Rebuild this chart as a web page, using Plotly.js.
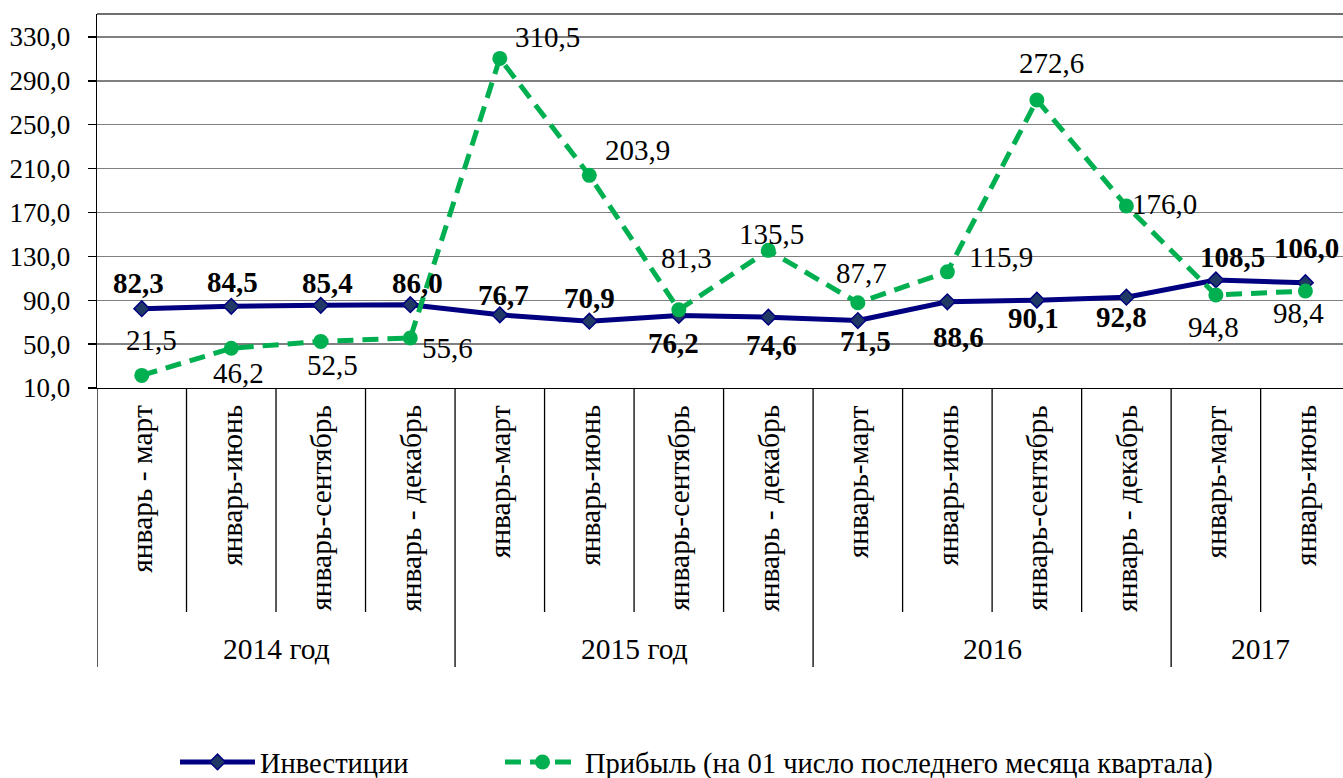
<!DOCTYPE html>
<html><head><meta charset="utf-8">
<script src="https://cdn.plot.ly/plotly-3.0.1.min.js"></script>
<style>html,body{margin:0;padding:0;overflow:hidden;background:#fff}</style>
</head><body><div id="chart" style="width:1343px;height:778px"></div>
<script>
// ---- data ----
const categories = ['январь - март','январь-июнь','январь-сентябрь','январь - декабрь',
  'январь-март','январь-июнь','январь-сентябрь','январь - декабрь',
  'январь-март','январь-июнь','январь-сентябрь','январь - декабрь',
  'январь-март','январь-июнь'];
const groups = ['2014 год','2015 год','2016','2017'];
const groupSizes = [4,4,4,2];
const investments = [82.3,84.5,85.4,86.0,76.7,70.9,76.2,74.6,71.5,88.6,90.1,92.8,108.5,106.0];
const profit = [21.5,46.2,52.5,55.6,310.5,203.9,81.3,135.5,87.7,115.9,272.6,176.0,94.8,98.4];
const seriesNames = ['Инвестиции','Прибыль (на 01 число последнего месяца квартала)'];
const yTicks = [10,50,90,130,170,210,250,290,330];

// ---- label placement (pixel offsets from the point: dx right, dy down) ----
const investLabelPos = [[-3,-26],[1,-24],[7,-22],[7,-22],[4,-20],[0,-23],[-5,28],[3,28],[8,20],[11,35],[-3,18],[-5,20],[17,-23],[1,-35]];
const profitLabelPos = [[10,-35],[7,25],[12,24],[37,10],[48,-21],[48,-25],[8,-52],[3,-16],[4,-30],[54,-15],[15,-37],[38,-2],[-2,32],[-7,22]];

const FONT = 'Liberation Serif, Times New Roman, serif';
const FS_TICK = 27, FS_LABEL = 29, FS_CAT = 29.5, FS_LEG = 28.5;
const fmt = v => v.toFixed(1).replace('.', ',');
const xs = categories.map((_, i) => i);

const traces = [
  {x: xs, y: investments, name: seriesNames[0], type: 'scatter', mode: 'lines+markers',
   line: {color: '#000080', width: 5},
   marker: {symbol: 'diamond', size: 12, color: '#1F3864', line: {color: '#000080', width: 1.5}},
   hoverinfo: 'skip', legend: 'legend'},
  {x: xs, y: profit, name: seriesNames[1], type: 'scatter', mode: 'lines+markers',
   line: {color: '#00B050', width: 5, dash: '16px,9px'},
   marker: {symbol: 'circle', size: 15, color: '#00B050'},
   hoverinfo: 'skip', legend: 'legend2'}
];

const annotations = [];
investments.forEach((v, i) => annotations.push({
  x: i, y: v, xref: 'x', yref: 'y', text: '<b>' + fmt(v) + '</b>', showarrow: false,
  xshift: investLabelPos[i][0], yshift: -investLabelPos[i][1],
  font: {family: FONT, size: FS_LABEL, color: '#000'}
}));
profit.forEach((v, i) => annotations.push({
  x: i, y: v, xref: 'x', yref: 'y', text: fmt(v), showarrow: false,
  xshift: profitLabelPos[i][0], yshift: -profitLabelPos[i][1],
  font: {family: FONT, size: FS_LABEL, color: '#000'}
}));

const plotH = 374;
const toPaperY = px => -(px - 388) / plotH;

categories.forEach((c, i) => annotations.push({
  x: i, y: toPaperY(403), xref: 'x', yref: 'paper', text: c, showarrow: false,
  textangle: -90, xanchor: 'center', yanchor: 'top',
  font: {family: FONT, size: FS_CAT, color: '#000'}
}));

const shapes = [];
let start = 0;
groups.forEach((g, gi) => {
  const n = groupSizes[gi];
  annotations.push({
    x: start + (n - 1) / 2, y: toPaperY(649), xref: 'x', yref: 'paper', text: g,
    showarrow: false, xanchor: 'center', yanchor: 'middle',
    font: {family: FONT, size: FS_CAT, color: '#000'}
  });
  shapes.push({type: 'line', xref: 'x', yref: 'paper', x0: start - 0.5, x1: start - 0.5,
    y0: 0, y1: toPaperY(667), line: {color: '#000', width: 1.3}});
  for (let k = 1; k < n; k++) {
    shapes.push({type: 'line', xref: 'x', yref: 'paper', x0: start + k - 0.5, x1: start + k - 0.5,
      y0: 0, y1: toPaperY(612), line: {color: '#000', width: 1.3}});
  }
  start += n;
});
shapes.push({type: 'line', xref: 'paper', yref: 'paper', x0: 0, x1: 1, y0: 1, y1: 1,
  line: {color: '#404040', width: 1.3}});

const legendBase = {orientation: 'h', xref: 'container', yref: 'container', y: 0.02,
  xanchor: 'left', yanchor: 'middle', itemwidth: 75,
  font: {family: FONT, size: FS_LEG, color: '#000'}, bgcolor: 'rgba(0,0,0,0)'};

const layout = {
  width: 1343, height: 778,
  margin: {l: 97, r: 0, t: 14, b: 390},
  paper_bgcolor: '#fff', plot_bgcolor: '#fff',
  separators: ', ',
  font: {family: FONT, size: FS_TICK, color: '#000'},
  showlegend: true,
  legend: Object.assign({}, legendBase, {x: 175 / 1343}),
  legend2: Object.assign({}, legendBase, {x: 500 / 1343}),
  xaxis: {range: [-0.5, 13.42], showticklabels: false, ticks: '', showgrid: false,
    zeroline: false, showline: true, linecolor: '#000', linewidth: 1.3, fixedrange: true},
  yaxis: {range: [10, 351], tickvals: yTicks, ticktext: yTicks.map(fmt), showgrid: true,
    gridcolor: '#808080', gridwidth: 1.3, zeroline: false, showline: true, linecolor: '#000',
    linewidth: 1.3, ticks: 'outside', ticklen: 8, tickcolor: '#000', tickwidth: 1.3,
    ticklabelstandoff: 12, tickfont: {family: FONT, size: FS_TICK, color: '#000'}, fixedrange: true},
  annotations: annotations,
  shapes: shapes
};

Plotly.newPlot('chart', traces, layout, {displayModeBar: false, staticPlot: true});
</script>
</body></html>
